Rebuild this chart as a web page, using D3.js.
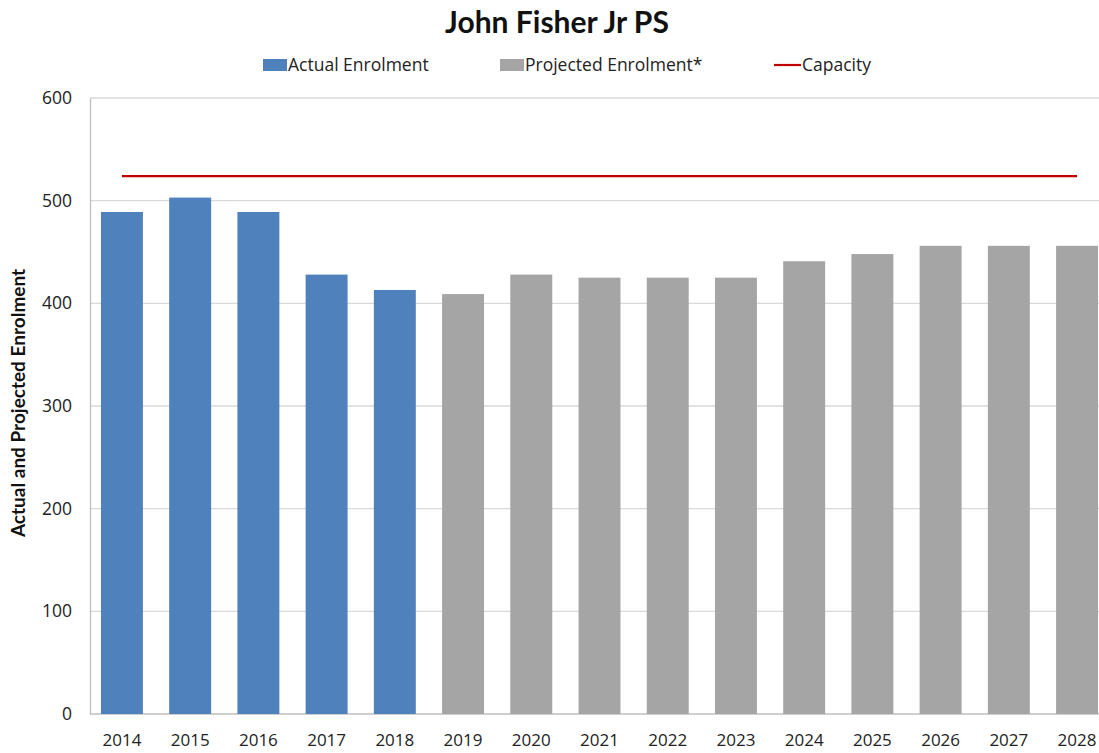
<!DOCTYPE html>
<html>
<head>
<meta charset="utf-8">
<script src="https://cdn.jsdelivr.net/npm/d3@7"></script>
<style>
  body { margin: 0; background: #fff; }
  svg { display: block; font-family: Lato, "Open Sans", sans-serif; }
</style>
</head>
<body>
<svg id="chart" width="1099" height="753"></svg>
<script>
// values
const years = ["2014", "2015", "2016", "2017", "2018", "2019", "2020", "2021",
               "2022", "2023", "2024", "2025", "2026", "2027", "2028"];
const actual = [489, 503, 489, 428, 413, null, null, null, null, null, null, null, null, null, null];
const projected = [null, null, null, null, null, 409, 428, 425, 425, 425, 441, 448, 456, 456, 456];
const capacity = 524;
const yTicks = [0, 100, 200, 300, 400, 500, 600];
const legendNames = ["Actual Enrolment", "Projected Enrolment*", "Capacity"];

const blue = "#4f81bd", grey = "#a5a5a5", red = "#c00000";

const svg = d3.select("#chart");
const plotLeft = 90, plotTop = 98, plotBottom = 714;

let x = d3.scaleBand().domain(years).range([88, 88 + 15 * 68.2]).paddingInner(0.385).paddingOuter(0.19);
let y = d3.scaleLinear().domain([0, 600]).range([plotBottom, plotTop]);

// title
svg.append("text")
    .attr("x", 557).attr("y", 33)
    .attr("text-anchor", "middle")
    .attr("font-size", 30).attr("font-weight", "bold")
    .attr("fill", "#111")
    .text("John Fisher Jr PS");

// gridlines
svg.append("g").selectAll("line")
  .data(yTicks.slice(1))
  .enter().append("line")
    .attr("x1", plotLeft).attr("x2", 1099)
    .attr("y1", d => y(d)).attr("y2", d => y(d))
    .attr("stroke", "#d9d9d9").attr("stroke-width", 1.3);

// y axis
let yAxis = svg.append("g")
    .attr("transform", "translate(" + plotLeft + ",0)")
    .call(d3.axisLeft(y).tickValues(yTicks).tickSize(0).tickPadding(18));
yAxis.select(".domain").attr("stroke", "#bfbfbf").attr("stroke-width", 1.3);
yAxis.selectAll("text").attr("font-size", 17.5).attr("fill", "#222").attr("font-family", "Open Sans, sans-serif");

// x axis
let xAxis = svg.append("g")
    .attr("transform", "translate(0," + plotBottom + ")")
    .call(d3.axisBottom(x).tickSize(0).tickPadding(20));
xAxis.select(".domain").attr("stroke", "#bfbfbf").attr("stroke-width", 1.3)
    .attr("d", "M" + plotLeft + ",0H1099");
xAxis.selectAll("text").attr("font-size", 17).attr("fill", "#222").attr("font-family", "Open Sans, sans-serif");

// bars
svg.append("g").selectAll("rect")
  .data(years.filter((d, i) => actual[i] != null))
  .enter().append("rect")
    .attr("x", d => x(d))
    .attr("width", x.bandwidth())
    .attr("y", d => y(actual[years.indexOf(d)]))
    .attr("height", d => plotBottom - y(actual[years.indexOf(d)]))
    .attr("fill", blue);

svg.append("g").selectAll("rect")
  .data(years.filter((d, i) => projected[i] != null))
  .enter().append("rect")
    .attr("x", d => x(d))
    .attr("width", x.bandwidth())
    .attr("y", d => y(projected[years.indexOf(d)]))
    .attr("height", d => plotBottom - y(projected[years.indexOf(d)]))
    .attr("fill", grey);

// capacity line
let line = d3.line()
    .x(d => x(d) + x.bandwidth() / 2)
    .y(() => y(capacity));
svg.append("path")
    .datum(years)
    .attr("d", line)
    .attr("fill", "none")
    .attr("stroke", red)
    .attr("stroke-width", 2.2);

// y axis title
svg.append("text")
    .attr("transform", "translate(25," + 403 + ") rotate(-90)")
    .attr("text-anchor", "middle")
    .attr("font-size", 19).attr("font-weight", "bold")
    .attr("fill", "#111")
    .text("Actual and Projected Enrolment");

// legend
const legendX = [263, 500, 774];
let legend = svg.append("g").selectAll("g")
  .data(legendNames)
  .enter().append("g")
    .attr("transform", (d, i) => "translate(" + legendX[i] + ",65)");
legend.filter((d, i) => i < 2).append("rect")
    .attr("x", 0).attr("y", -6).attr("width", 24).attr("height", 12)
    .attr("fill", (d, i) => i == 0 ? blue : grey);
legend.filter((d, i) => i == 2).append("line")
    .attr("x1", 0).attr("x2", 27).attr("y1", 0).attr("y2", 0)
    .attr("stroke", red).attr("stroke-width", 2.2);
legend.append("text")
    .attr("x", (d, i) => i == 2 ? 28 : 25)
    .attr("y", 6)
    .attr("font-size", 17.5)
    .attr("fill", "#222")
    .attr("font-family", "Open Sans, sans-serif")
    .text(d => d);
</script>
</body>
</html>
